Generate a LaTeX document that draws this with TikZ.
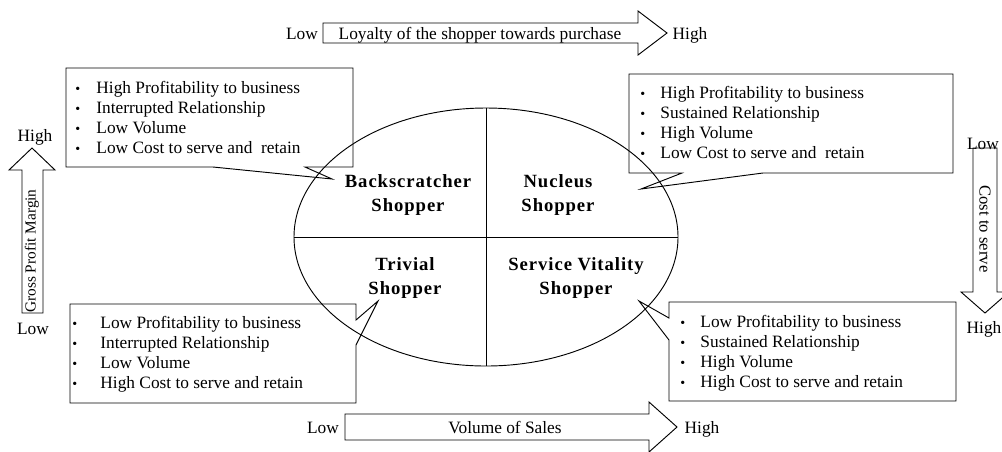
\documentclass[tikz,border=0pt]{standalone}
\usepackage{fontspec}
\setmainfont{Liberation Serif}
\usepackage{tikz}
\usetikzlibrary{shapes.geometric,positioning}

\newlength\bulgap
\newcommand{\itm}{\makebox[\bulgap][l]{\fontsize{10.5}{10}\selectfont\textbullet}}

\begin{document}
\begin{tikzpicture}[x=0.75pt,y=-0.75pt,line width=0.7pt,
    lbl/.style={inner sep=0pt,anchor=base,font=\fontsize{13}{15}\selectfont},
    title/.style={inner sep=0pt,align=center,font=\fontsize{14}{18}\selectfont\bfseries\addfontfeature{LetterSpace=5}},
    blist/.style={inner sep=0pt,anchor=north west,align=left,font=\fontsize{13}{15}\selectfont},
    bulletgap/.code={\setlength\bulgap{#1}}]

    \useasboundingbox (0,0) rectangle (1002,451);

    \node (shopper) [draw, ellipse, minimum width=288pt, minimum height=193.5pt, inner sep=0pt] at (486,237) {};
    \draw (shopper.north) -- (shopper.south);
    \draw (shopper.west) -- (shopper.east);

    \node (bsTitle) [title] at (408,195) {Backscratcher\\Shopper};
    \node (nuTitle) [title] at (558,195) {Nucleus\\Shopper};
    \node (trTitle) [title] at (405,278) {Trivial\\Shopper};
    \node (svTitle) [title] at (576,278) {Service Vitality\\Shopper};

    % callouts
    \draw (213,167) -| (66,68) -| (353,167) -- (305,167) -- (332,179) -- cycle;
    \draw (682,173) -| (629,74) -| (953,173) -- (763,173) -- (641,189) -- cycle;
    \draw (356,320) |- (70,304) |- (356,403) -- (356,345) -- (378,301) -- cycle;
    \draw (669,318) |- (956,302) |- (669,401) -- (669,340) -- (639,301) -- cycle;

    \node (bsList) [blist, bulletgap=15.75pt] at (75,81)
    {
        \itm High Profitability to business\\
        \itm Interrupted Relationship\\
        \itm Low Volume\\
        \itm Low Cost to serve and~ retain
    };
    \node (nuList) [blist, bulletgap=15pt] at (640,86)
    {
        \itm High Profitability to business\\
        \itm Sustained Relationship\\
        \itm High Volume\\
        \itm Low Cost to serve and~ retain
    };
    \node (trList) [blist, bulletgap=21pt] at (72,316)
    {
        \itm Low Profitability to business\\
        \itm Interrupted Relationship\\
        \itm Low Volume\\
        \itm High Cost to serve and retain
    };
    \node (svList) [blist, bulletgap=15pt] at (680,315)
    {
        \itm Low Profitability to business\\
        \itm Sustained Relationship\\
        \itm High Volume\\
        \itm High Cost to serve and retain
    };

    % block arrows
    \draw (323,23) -- (638,23) -- (638,11) -- (667,33) -- (638,55) -- (638,43) -- (323,43) -- cycle;
    \draw (345,414) -- (649,414) -- (649,402) -- (677,427) -- (649,452) -- (649,440) -- (345,440) -- cycle;
    \draw (22,313) -- (22,170) -- (9,170) -- (32,148) -- (55,170) -- (43,170) -- (43,313) -- cycle;
    \draw (973,148) -- (997,148) -- (997,292) -- (1009,292) -- (985,313) -- (961,292) -- (973,292) -- cycle;

    \node (loyLow) [lbl] at (302,39) {Low};
    \node (loyText) [lbl] at (480,39) {Loyalty of the shopper towards purchase};
    \node (loyHigh) [lbl] at (690,39) {High};

    \node (volLow) [lbl] at (323,433) {Low};
    \node (volText) [lbl] at (505,433) {Volume of Sales};
    \node (volHigh) [lbl] at (702,433) {High};

    \node (gpmHigh) [lbl] at (35,141) {High};
    \node (gpmText) [inner sep=0pt, rotate=90, font=\fontsize{11.5}{14}\selectfont] at (32,251) {Gross Profit Margin};
    \node (gpmLow) [lbl] at (33,334) {Low};

    \node (ctsLow) [lbl] at (983,149) {Low};
    \node (ctsText) [inner sep=0pt, rotate=-90, font=\fontsize{12.5}{15}\selectfont] at (985,229) {Cost to serve};
    \node (ctsHigh) [lbl] at (984,333) {High};

\end{tikzpicture}
\end{document}
